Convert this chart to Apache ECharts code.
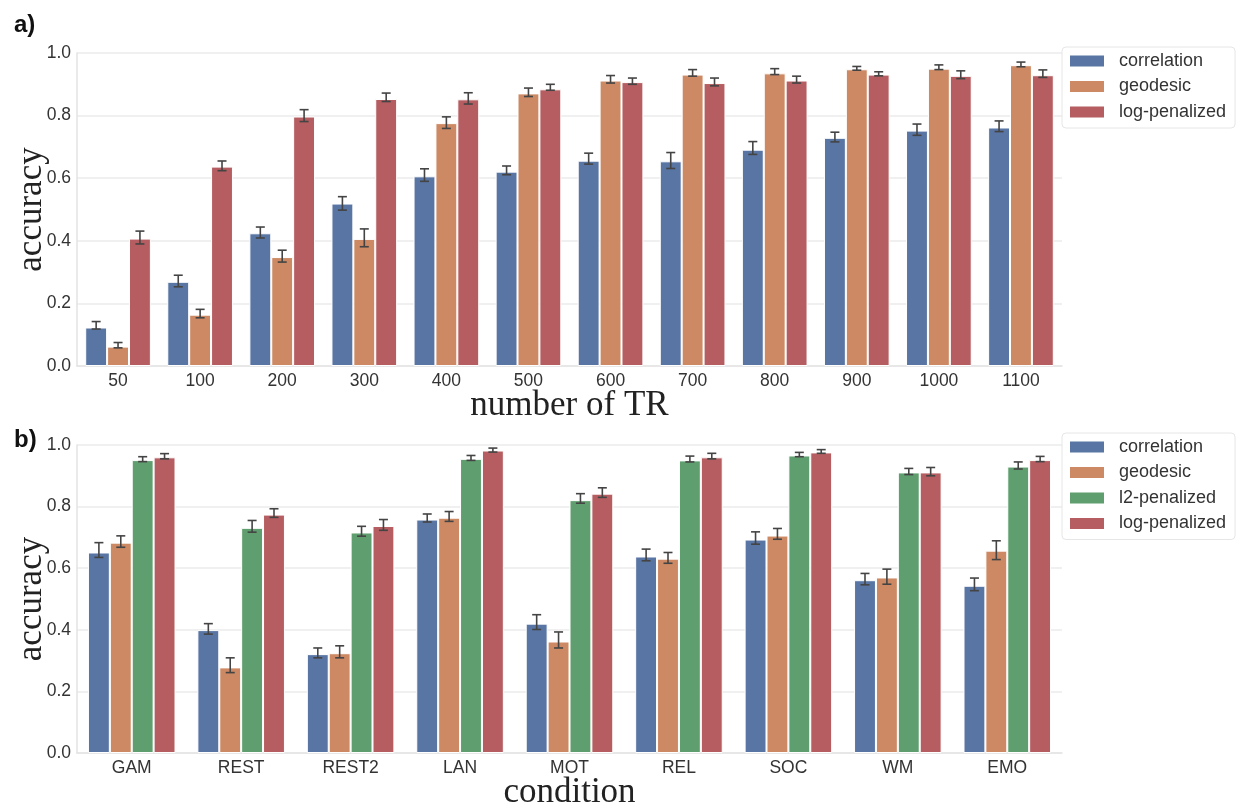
<!DOCTYPE html>
<html>
<head>
<meta charset="utf-8">
<script src="https://cdn.jsdelivr.net/npm/echarts@6/dist/echarts.min.js"></script>
<style>
  html, body { margin: 0; padding: 0; background: #fff; }
  #main { width: 1244px; height: 806px; }
</style>
</head>
<body>
<div id="main"></div>
<script>
// panel a) : accuracy vs number of TR
const trCategories = ['50', '100', '200', '300', '400', '500', '600', '700', '800', '900', '1000', '1100'];
const corrA = [0.123, 0.269, 0.424, 0.519, 0.606, 0.621, 0.656, 0.654, 0.691, 0.729, 0.752, 0.762];
const geoA  = [0.062, 0.164, 0.348, 0.406, 0.776, 0.871, 0.912, 0.931, 0.935, 0.948, 0.950, 0.961];
const logA  = [0.407, 0.637, 0.797, 0.853, 0.852, 0.884, 0.907, 0.904, 0.912, 0.931, 0.927, 0.929];
// confidence intervals [lo, hi]
const corrACi = [[0.118, 0.142], [0.253, 0.290], [0.409, 0.444], [0.498, 0.541], [0.590, 0.630], [0.611, 0.639],
                 [0.645, 0.680], [0.631, 0.682], [0.676, 0.717], [0.716, 0.747], [0.737, 0.773], [0.749, 0.783]];
const geoACi  = [[0.058, 0.075], [0.154, 0.181], [0.332, 0.370], [0.381, 0.438], [0.759, 0.796], [0.861, 0.888],
                 [0.904, 0.928], [0.926, 0.947], [0.931, 0.950], [0.945, 0.957], [0.947, 0.962], [0.956, 0.971]];
const logACi  = [[0.390, 0.431], [0.624, 0.655], [0.781, 0.819], [0.845, 0.872], [0.837, 0.873], [0.881, 0.900],
                 [0.900, 0.920], [0.895, 0.920], [0.904, 0.926], [0.927, 0.940], [0.918, 0.943], [0.922, 0.946]];

// panel b) : accuracy per condition
const condCategories = ['GAM', 'REST', 'REST2', 'LAN', 'MOT', 'REL', 'SOC', 'WM', 'EMO'];
const corrB = [0.651, 0.399, 0.321, 0.758, 0.420, 0.638, 0.693, 0.561, 0.543];
const geoB  = [0.683, 0.278, 0.324, 0.764, 0.362, 0.631, 0.706, 0.570, 0.657];
const l2B   = [0.951, 0.731, 0.716, 0.955, 0.821, 0.950, 0.966, 0.911, 0.930];
const logB  = [0.960, 0.774, 0.737, 0.982, 0.842, 0.960, 0.976, 0.911, 0.951];
const corrBCi = [[0.635, 0.683], [0.386, 0.420], [0.309, 0.341], [0.750, 0.776], [0.401, 0.449],
                 [0.624, 0.662], [0.678, 0.718], [0.546, 0.583], [0.527, 0.568]];
const geoBCi  = [[0.668, 0.705], [0.261, 0.309], [0.309, 0.348], [0.752, 0.784], [0.341, 0.393],
                 [0.616, 0.651], [0.694, 0.729], [0.548, 0.597], [0.628, 0.689]];
const l2BCi   = [[0.946, 0.962], [0.717, 0.755], [0.704, 0.736], [0.950, 0.966], [0.811, 0.842],
                 [0.945, 0.964], [0.962, 0.976], [0.904, 0.924], [0.922, 0.945]];
const logBCi  = [[0.955, 0.972], [0.765, 0.793], [0.723, 0.758], [0.977, 0.990], [0.830, 0.861],
                 [0.955, 0.973], [0.973, 0.985], [0.900, 0.927], [0.946, 0.963]];

const colors = {
  'correlation': '#5975a4',
  'geodesic': '#cc8963',
  'l2-penalized': '#5f9e6e',
  'log-penalized': '#b55d60'
};

const tickFont = { fontFamily: 'Liberation Sans', fontSize: 17.5, color: '#333' };
const serifName = { fontFamily: 'Liberation Serif', fontSize: 35, color: '#222' };

const myChart = echarts.init(document.getElementById('main'));

function barSeries(name, data, gi) {
  return {
    name: name,
    type: 'bar',
    xAxisIndex: gi,
    yAxisIndex: gi,
    data: data,
    barGap: '0%',
    barCategoryGap: '20%',
    itemStyle: { color: colors[name], borderColor: '#fff', borderWidth: 1 },
    emphasis: { disabled: true }
  };
}

// error bars drawn at the position of the i-th of n bars in each group
function ciSeries(ci, gi, idx, n) {
  return {
    type: 'custom',
    name: 'ci',
    xAxisIndex: gi,
    yAxisIndex: gi,
    z: 5,
    silent: true,
    data: ci.map((d, k) => [k, d[0], d[1]]),
    encode: { x: 0, y: [1, 2] },
    renderItem: function (params, api) {
      const band = api.size([1, 0])[0];
      const bw = band * 0.8 / n;
      const off = (idx - (n - 1) / 2) * bw;
      const lo = api.coord([api.value(0), api.value(1)]);
      const hi = api.coord([api.value(0), api.value(2)]);
      const x = lo[0] + off;
      const cap = 4.5;
      const st = { stroke: '#444', lineWidth: 1.6 };
      return {
        type: 'group',
        children: [
          { type: 'line', shape: { x1: x, y1: lo[1], x2: x, y2: hi[1] }, style: st },
          { type: 'line', shape: { x1: x - cap, y1: lo[1], x2: x + cap, y2: lo[1] }, style: st },
          { type: 'line', shape: { x1: x - cap, y1: hi[1], x2: x + cap, y2: hi[1] }, style: st }
        ]
      };
    }
  };
}

function yAxis(gi) {
  return {
    type: 'value',
    gridIndex: gi,
    min: 0,
    max: 1,
    interval: 0.2,
    name: 'accuracy',
    nameLocation: 'middle',
    nameGap: 45,
    nameMoveOverlap: false,
    nameTextStyle: Object.assign({ verticalAlign: 'middle' }, serifName),
    axisLine: { show: true, lineStyle: { color: '#e3e3e3', width: 1.5 } },
    axisTick: { show: false },
    axisLabel: Object.assign({ margin: 6, formatter: v => v.toFixed(1) }, tickFont),
    splitLine: { lineStyle: { color: '#ebebeb', width: 1.5 } }
  };
}

function xAxis(gi, cats, name, gap) {
  return {
    type: 'category',
    gridIndex: gi,
    data: cats,
    name: name,
    nameLocation: 'middle',
    nameGap: gap,
    nameMoveOverlap: false,
    nameTextStyle: Object.assign({ verticalAlign: 'middle' }, serifName),
    axisLine: { show: true, lineStyle: { color: '#e3e3e3', width: 1.5 } },
    axisTick: { show: false },
    axisLabel: Object.assign({ margin: 6 }, tickFont),
    splitLine: { show: false }
  };
}

function legend(names, top) {
  return {
    data: names,
    orient: 'vertical',
    left: 1062,
    top: top,
    itemWidth: 34,
    itemHeight: 11,
    itemGap: 7.5,
    icon: 'rect',
    selectedMode: false,
    backgroundColor: '#fff',
    borderColor: '#e6e6e6',
    borderWidth: 1,
    borderRadius: 4,
    padding: [5, 9, 7, 8],
    itemStyle: { borderWidth: 0 },
    textStyle: { fontFamily: 'Liberation Sans', fontSize: 18, color: '#333', lineHeight: 18, padding: [0, 0, 0, 10] }
  };
}

const option = {
  backgroundColor: '#fff',
  animation: false,
  title: [
    { text: 'a)', left: 9, top: 8, textStyle: { fontFamily: 'Liberation Sans', fontWeight: 'bold', fontSize: 24, color: '#111' } },
    { text: 'b)', left: 9, top: 423, textStyle: { fontFamily: 'Liberation Sans', fontWeight: 'bold', fontSize: 24, color: '#111' } }
  ],
  legend: [
    legend(['correlation', 'geodesic', 'log-penalized'], 47),
    legend(['correlation', 'geodesic', 'l2-penalized', 'log-penalized'], 433)
  ],
  grid: [
    { left: 77, width: 985, top: 53, height: 313, containLabel: false, outerBoundsMode: 'none' },
    { left: 77, width: 985, top: 445, height: 308, containLabel: false, outerBoundsMode: 'none' }
  ],
  xAxis: [
    xAxis(0, trCategories, 'number of TR', 40),
    xAxis(1, condCategories, 'condition', 40)
  ],
  yAxis: [yAxis(0), yAxis(1)],
  series: [
    barSeries('correlation', corrA, 0),
    barSeries('geodesic', geoA, 0),
    barSeries('log-penalized', logA, 0),
    ciSeries(corrACi, 0, 0, 3),
    ciSeries(geoACi, 0, 1, 3),
    ciSeries(logACi, 0, 2, 3),
    barSeries('correlation', corrB, 1),
    barSeries('geodesic', geoB, 1),
    barSeries('l2-penalized', l2B, 1),
    barSeries('log-penalized', logB, 1),
    ciSeries(corrBCi, 1, 0, 4),
    ciSeries(geoBCi, 1, 1, 4),
    ciSeries(l2BCi, 1, 2, 4),
    ciSeries(logBCi, 1, 3, 4)
  ]
};

myChart.setOption(option);
window.addEventListener('resize', function () {
  myChart.resize();
});
</script>
</body>
</html>
